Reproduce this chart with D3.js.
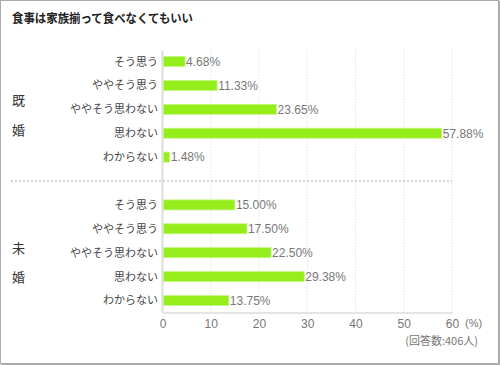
<!DOCTYPE html>
<html><head><meta charset="utf-8">
<script src="https://cdn.jsdelivr.net/npm/d3@7/dist/d3.min.js"></script>
<style>
body{margin:0;background:#fff;}
svg{display:block;font-family:"Liberation Sans","Noto Sans CJK JP",sans-serif;}
.jp{font-family:"Noto Sans CJK JP",sans-serif;}
</style></head>
<body><div id="chart"></div>
<script>
const title = "食事は家族揃って食べなくてもいい";
const categories = ["そう思う","ややそう思う","ややそう思わない","思わない","わからない"];
const groups = ["既婚","未婚"];
const marriedValues = [4.68, 11.33, 23.65, 57.88, 1.48];
const singleValues = [15.00, 17.50, 22.50, 29.38, 13.75];
const tickValues = [0,10,20,30,40,50,60];
const unitLabel = "(%)";
const noteLabel = "(回答数:406人)";

const W = 500, H = 365;
const svg = d3.select("#chart").append("svg").attr("width", W).attr("height", H);

// frame
svg.append("rect").attr("x",0.5).attr("y",0.5).attr("width",W-2).attr("height",H-2)
  .attr("fill","#fff").attr("stroke","#aaa");
svg.append("line").attr("x1",W-0.5).attr("x2",W-0.5).attr("y1",1).attr("y2",H).attr("stroke","#aaa");
svg.append("line").attr("x1",1).attr("x2",W).attr("y1",H-0.5).attr("y2",H-0.5).attr("stroke","#aaa");

svg.append("text").attr("class","jp").attr("x",12).attr("y",23)
  .attr("font-size",12.5).attr("font-weight","bold").attr("fill","#222")
  .attr("textLength",181).attr("lengthAdjust","spacingAndGlyphs").text(title);

const rows = [];
categories.forEach((c,i)=>rows.push({key:"g0-"+i, cat:c, v:marriedValues[i]}));
const sepKey = "sep";
categories.forEach((c,i)=>rows.push({key:"g1-"+i, cat:c, v:singleValues[i]}));
const domain = rows.slice(0,5).map(d=>d.key).concat([sepKey]).concat(rows.slice(5).map(d=>d.key));

const x0 = 162.5, x1 = 452, yTop = 49.6, yBot = 312.4;
const x = d3.scaleLinear().domain([0,60]).range([x0,x1]);
const y = d3.scaleBand().domain(domain).range([yTop,yBot]).paddingInner(0.58).paddingOuter(0.29);

// gridlines
svg.append("g").selectAll("line").data(tickValues.slice(1)).join("line")
  .attr("x1",d=>x(d)).attr("x2",d=>x(d)).attr("y1",yTop+1).attr("y2",yBot)
  .attr("stroke","#d4d4d4").attr("stroke-dasharray","1,2");

// separator
const sepY = y(sepKey) + y.bandwidth()/2;
svg.append("line").attr("x1",11).attr("x2",x1).attr("y1",sepY).attr("y2",sepY)
  .attr("stroke","#aaa").attr("stroke-dasharray","2,2");

// x axis
const xAxis = d3.axisBottom(x).tickValues(tickValues).tickSize(0).tickPadding(5);
const gx = svg.append("g").attr("transform",`translate(0,${yBot})`).call(xAxis);
gx.select(".domain").attr("stroke","#ddd").attr("stroke-width",1.5);
gx.selectAll("text").attr("font-size",12).attr("fill","#777").attr("font-family","Liberation Sans,sans-serif").attr("dy","0.85em");

svg.append("text").attr("x",465).attr("y",327).attr("font-size",11).attr("fill","#777").text(unitLabel);
svg.append("text").attr("class","jp").attr("x",478).attr("y",344.5).attr("text-anchor","end")
  .attr("font-size",11).attr("fill","#777").text(noteLabel);

// vertical axis line
svg.append("line").attr("x1",x0).attr("x2",x0).attr("y1",yTop+1).attr("y2",yBot)
  .attr("stroke","#ddd").attr("stroke-width",2);

// bars
svg.append("g").selectAll("rect").data(rows).join("rect")
  .attr("x",x(0)+1).attr("y",d=>y(d.key)).attr("height",y.bandwidth())
  .attr("width",d=>x(d.v)-x(0)-1)
  .attr("fill","#95ee1b").attr("stroke","#c6f585").attr("stroke-width",0.8);

// value labels
svg.append("g").selectAll("text").data(rows).join("text")
  .attr("x",d=>x(d.v)+1).attr("y",d=>y(d.key)+y.bandwidth()/2).attr("dy","0.36em")
  .attr("font-size",12).attr("fill","#777").text(d=>d.v.toFixed(2)+"%");

// category labels
svg.append("g").selectAll("text").data(rows).join("text").attr("class","jp")
  .attr("x",158).attr("y",d=>y(d.key)+y.bandwidth()/2).attr("dy","0.36em")
  .attr("text-anchor","end").attr("font-size",11).attr("fill","#444").text(d=>d.cat);

// group labels
const groupChars = [
  {t:groups[0][0], y:100},{t:groups[0][1], y:130},
  {t:groups[1][0], y:248},{t:groups[1][1], y:277}
];
svg.append("g").selectAll("text").data(groupChars).join("text").attr("class","jp")
  .attr("x",12).attr("y",d=>d.y).attr("dy","0.36em").attr("font-size",13).attr("fill","#333").text(d=>d.t);
</script></body></html>
